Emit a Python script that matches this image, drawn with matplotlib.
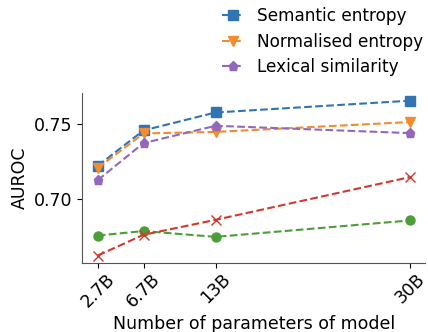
import matplotlib.pyplot as plt
import numpy as np

params = [2.7, 6.7, 13, 30]
tick_labels = ['2.7B', '6.7B', '13B', '30B']

semantic_entropy = [0.7223, 0.7460, 0.7580, 0.7659]
normalised_entropy = [0.7208, 0.7440, 0.7450, 0.7516]
lexical_similarity = [0.7127, 0.7375, 0.7491, 0.7442]
green_series = [0.6756, 0.6786, 0.6747, 0.6857]
red_series = [0.6622, 0.6761, 0.6861, 0.7147]

plt.rcParams['font.size'] = 12.5

fig = plt.figure(figsize=(4.28, 3.32), dpi=100)
ax = fig.add_axes([0.192, 0.207, 0.802, 0.513])

l1, = ax.plot(params, semantic_entropy, '--s', color='#3274b3', ms=6.5, label='Semantic entropy')
l2, = ax.plot(params, normalised_entropy, '--v', color='#f28c2e', ms=6.5, label='Normalised entropy')
l3, = ax.plot(params, lexical_similarity, '--p', color='#9467bd', ms=6.5, label='Lexical similarity')
ax.plot(params, green_series, '--o', color='#4c9f38', ms=6.5)
ax.plot(params, red_series, '--x', color='#d3382f', ms=6.5)

ax.set_xticks(params)
ax.set_xticklabels(tick_labels, rotation=45)
ax.tick_params(axis='x', pad=1.5)
ax.set_yticks([0.70, 0.75])
ax.set_yticklabels(['0.70', '0.75'])
ax.set_xlabel('Number of parameters of model', labelpad=3)
ax.set_ylabel('AUROC')

for s in ['top', 'right']:
    ax.spines[s].set_visible(False)
for s in ['left', 'bottom']:
    ax.spines[s].set_color('#555555')

fig.legend(handles=[l1, l2, l3], loc='upper right', bbox_to_anchor=(1.025, 1.025),
           frameon=False, handlelength=1.3, labelspacing=0.45, fontsize=12.2)

fig.savefig('out.png', dpi=100)
